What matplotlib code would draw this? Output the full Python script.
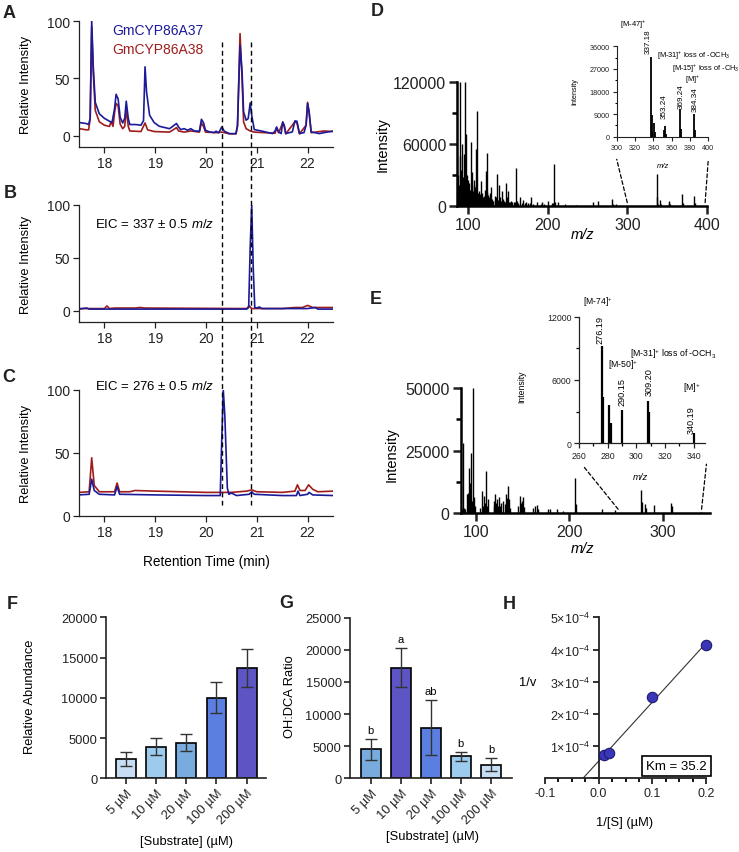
import numpy as np
import matplotlib
matplotlib.use("Agg")
import matplotlib.pyplot as plt
from matplotlib.lines import Line2D
from matplotlib.patches import ConnectionPatch
import matplotlib.transforms as mtransforms
from matplotlib.ticker import MultipleLocator, FixedLocator, FixedFormatter

plt.rcParams['font.family'] = ['Liberation Sans', 'DejaVu Sans']
plt.rcParams['mathtext.fontset'] = 'custom'
plt.rcParams['mathtext.rm'] = 'Liberation Sans'
plt.rcParams['mathtext.it'] = 'Liberation Sans:italic'
plt.rcParams['mathtext.bf'] = 'Liberation Sans:bold'

# ---------------- data ----------------
# A: total ion chromatogram
a37_t = [17.51, 17.64, 17.69, 17.72, 17.75, 17.78, 17.82, 17.9, 18.0, 18.1, 18.15, 18.2, 18.23, 18.27, 18.31,
         18.36, 18.4, 18.43, 18.47, 18.5, 18.62, 18.72, 18.77, 18.8, 18.83, 18.89, 18.98, 19.08, 19.28, 19.33,
         19.39, 19.42, 19.46, 19.5, 19.57, 19.64, 19.7, 19.77, 19.87, 19.91, 19.95, 19.99, 20.07, 20.16, 20.2,
         20.25, 20.31, 20.36, 20.46, 20.59, 20.62, 20.67, 20.71, 20.74, 20.79, 20.83, 20.87, 20.9, 20.95, 21.11,
         21.31, 21.36, 21.39, 21.43, 21.48, 21.51, 21.54, 21.57, 21.7, 21.75, 21.79, 21.84, 21.93, 21.97, 22.0,
         22.03, 22.07, 22.23, 22.33, 22.49]
a37_i = [11.3, 10.5, 9.6, 15, 100, 61, 29, 19, 15, 12.5, 11.3, 23.5, 36, 32, 16,
         11, 15, 30, 15, 9.6, 9.6, 9, 13, 60, 38, 17.7, 11.3, 8.1, 6, 7.5,
         9.6, 10.5, 7.5, 5.2, 6, 4.6, 6, 4, 3.8, 14.2, 11.3, 4.6, 3.2, 2.6, 3.8,
         2.3, 7.5, 3.8, 1.7, 1.7, 9, 78.8, 55.5, 20.6, 13.4, 14.8, 28.5, 17.7, 5.2, 3.8,
         1.7, 4, 7.5, 3.2, 1.7, 12, 9, 1.7, 3.2, 12.8, 12.5, 1.7, 2.6, 9, 28,
         20.6, 3.2, 1.7, 2.6, 3.8]
a38_t = [17.51, 17.64, 17.69, 17.72, 17.75, 17.78, 17.82, 17.9, 18.0, 18.1, 18.13, 18.17, 18.2, 18.23, 18.27,
         18.31, 18.36, 18.4, 18.43, 18.47, 18.5, 18.72, 18.8, 18.85, 18.98, 19.28, 19.39, 19.42, 19.46, 19.57,
         19.7, 19.87, 19.91, 19.95, 19.99, 20.2, 20.31, 20.46, 20.59, 20.62, 20.67, 20.71, 20.74, 20.79, 20.87,
         20.95, 21.36, 21.39, 21.43, 21.51, 21.54, 21.57, 21.75, 21.79, 21.84, 21.97, 22.0, 22.03, 22.07, 22.33,
         22.49]
a38_i = [6, 5, 5, 15, 95, 55, 22, 12, 9, 8, 12, 8, 20, 28, 26,
         10, 6, 8, 23, 8, 4, 3.5, 11, 5, 3.5, 3, 6, 7, 4, 3,
         4, 3, 11, 8, 3, 2.5, 3, 1.5, 1.5, 8, 89, 50, 12, 6, 4,
         3, 2, 6.5, 2.5, 11, 8, 1.5, 12, 11, 1.5, 9, 29, 20, 2.5, 4,
         3.5]
# B: EIC 337
b37_t = [17.5, 17.65, 17.7, 18.5, 20.8, 20.84, 20.87, 20.9, 20.93, 20.96, 21.0, 21.05, 21.1, 22.0, 22.15, 22.2, 22.5]
b37_i = [1.5, 2.5, 1.5, 1.5, 1.5, 3, 60, 100, 40, 3, 2.5, 3.5, 2, 2, 3, 1.5, 1.5]
b38_t = [17.5, 18.0, 18.05, 18.1, 18.2, 18.3, 18.6, 18.7, 18.8, 20.8, 20.85, 20.9, 21.5, 21.75, 21.9, 22.0, 22.1, 22.5]
b38_i = [2, 2, 4.5, 2, 2.5, 2.5, 2.5, 3, 2.5, 2, 4.5, 2, 2, 3, 3, 5, 3, 3]
# C: EIC 276
c37_t = [17.5, 17.7, 17.75, 17.8, 17.9, 18.2, 18.25, 18.3, 19.0, 20.0, 20.28, 20.31, 20.34, 20.37, 20.42, 20.45,
         20.5, 20.6, 20.85, 20.9, 20.95, 21.5, 21.78, 21.81, 21.85, 22.0, 22.03, 22.1, 22.5]
c37_i = [16.5, 17, 29, 20, 17, 16.5, 23, 17, 16.5, 16, 16, 60, 100, 80, 22, 17,
         18, 16, 17, 19, 17, 16, 16, 19.5, 16, 17, 18.5, 16.5, 16]
c38_t = [17.5, 17.7, 17.75, 17.8, 17.9, 18.2, 18.25, 18.3, 18.5, 18.6, 19.0, 19.5, 20.0, 20.3, 20.5, 20.8, 20.9,
         21.0, 21.5, 21.75, 21.8, 21.85, 21.95, 22.02, 22.1, 22.2, 22.5]
c38_i = [18.5, 19, 46, 24, 19, 19, 26, 19, 19, 20, 19.5, 19, 18.5, 18.5, 18.5, 19.5, 20.5,
         19, 18.5, 19.5, 24.5, 20, 20, 24.5, 21, 19, 19.5]
rt_marks = [20.32, 20.89]

# D: mass spectrum of product
d_mz = [86, 87, 88, 89, 90, 91, 92, 93, 94, 95, 96, 97, 98, 99, 100, 101, 102, 103, 104, 105, 106, 107, 108, 109,
        110, 111, 112, 113, 114, 115, 116, 117, 118, 119, 120, 121, 122, 123, 124, 125, 126, 127, 128, 129, 130,
        131, 133, 134, 135, 136, 137, 138, 139, 140, 141, 142, 143, 145, 146, 147, 148, 149, 150, 151, 152, 153,
        155, 157, 159, 160, 161, 163, 165, 167, 169, 171, 173, 175, 177, 179, 181, 186, 191, 193, 195, 200, 205,
        207, 208, 209, 213, 221, 235, 257, 263, 281, 282, 286, 337, 338, 339, 341, 342, 352, 353, 354, 369, 370,
        384, 385]
d_int = [45000, 30000, 20000, 120000, 48000, 35000, 60000, 28000, 22000, 50000, 120000, 70000, 30000, 25000,
         18000, 22000, 15000, 62000, 20000, 33000, 14000, 25000, 18000, 55000, 20000, 92000, 12000, 14000, 9000,
         11000, 24000, 12000, 8000, 9000, 7000, 15000, 34000, 13000, 51000, 10000, 8000, 12000, 6000, 18000, 7000,
         5000, 9000, 6000, 8000, 31000, 6000, 20000, 6000, 8000, 5000, 14000, 7000, 5000, 4000, 22000, 6000, 8000,
         14000, 4000, 4000, 5000, 3500, 4000, 4000, 37000, 5000, 3000, 8000, 3000, 6000, 2500, 4000, 2500, 2500,
         8000, 2000, 4000, 2000, 4000, 2000, 5000, 3000, 3000, 41000, 4000, 4000, 2000, 1000, 3500, 5000, 7000,
         2000, 1500, 31000, 8500, 2000, 5500, 1800, 2500, 4200, 1200, 11000, 3000, 9000, 2500]
di_mz = [337.18, 338, 339, 341, 342, 352, 353.24, 354, 369.24, 370, 384.34, 385]
di_int = [31600, 8500, 2000, 5500, 1800, 2500, 4200, 1200, 11000, 3000, 9000, 2500]

# E: mass spectrum of second product
e_mz = [85, 86, 87, 89, 91, 92, 93, 94, 95, 96, 97, 98, 99, 105, 107, 108, 109, 110, 111, 112, 113, 119, 120,
        121, 122, 123, 124, 125, 126, 127, 129, 131, 132, 133, 134, 135, 136, 137, 145, 147, 148, 149, 151, 152,
        161, 163, 165, 166, 177, 179, 187, 193, 206, 207, 235, 249, 276, 277, 281, 282, 290, 308, 309, 340]
e_int = [1500, 28000, 2000, 1500, 7600, 8000, 18000, 12000, 24000, 5000, 50000, 6300, 3000, 2000, 9000, 3000,
         7000, 4000, 17000, 3000, 5600, 3000, 5000, 7600, 4000, 5600, 3000, 6300, 3000, 4000, 5000, 3500, 7600,
         6000, 10700, 4000, 5600, 2000, 3000, 6700, 4000, 5000, 6300, 2500, 2000, 2700, 3200, 1500, 1600, 1500,
         1600, 800, 13900, 3600, 1600, 1300, 9200, 4300, 3600, 1900, 3200, 3900, 3000, 500]
ei_mz = [276.19, 277, 281, 282, 290.15, 308, 309.2, 340.19]
ei_int = [9200, 4400, 3600, 1900, 3200, 4000, 3000, 1000]

# F, G: bar charts
conc = ['5 µM', '10 µM', '20 µM', '100 µM', '200 µM']
f_mean = [2400, 3930, 4430, 9980, 13700]
f_err = [830, 1020, 1100, 1930, 2400]
f_colors = ['#c6ddf4', '#9dcbee', '#79acde', '#5a7fe0', '#5d55c4']
g_mean = [4510, 17220, 7880, 3420, 2120]
g_err = [1610, 3020, 4280, 700, 1050]
g_letters = ['b', 'a', 'ab', 'b', 'b']
g_colors = ['#79acde', '#5d55c4', '#5a7fe0', '#9dcbee', '#c6ddf4']

# H: Lineweaver-Burk
inv_s = [0.01, 0.02, 0.1, 0.2]
inv_v = [7.35e-5, 7.97e-5, 2.52e-4, 4.13e-4]
km_label = 'Km = 35.2'

# ---------------- layout helpers ----------------
W, H = 739, 853
fig = plt.figure(figsize=(W / 100, H / 100), dpi=100)


def box(l, t, r, b):
    return [l / W, 1 - b / H, (r - l) / W, (b - t) / H]


def ftext(x, y, s, **kw):
    kw.setdefault('ha', 'center')
    kw.setdefault('va', 'center')
    return fig.text(x / W, 1 - y / H, s, **kw)


blue = '#1b1b9a'
red = '#a01c1c'


def style_axes(ax, lw=0.9, tl=4, fs=9):
    ax.spines['top'].set_visible(False)
    ax.spines['right'].set_visible(False)
    for s in ('left', 'bottom'):
        ax.spines[s].set_linewidth(lw)
        ax.spines[s].set_color('#222222')
    ax.tick_params(axis='both', which='major', direction='out', length=tl, width=lw,
                   labelsize=fs, colors='#222222', pad=2)
    ax.tick_params(axis='both', which='minor', direction='out', length=tl * 0.6, width=lw)


# ---------------- A, B, C chromatograms ----------------
chrom = [
    (box(79, 22, 333, 148), (-10, 100), a37_t, a37_i, a38_t, a38_i),
    (box(79, 206, 333, 323.3), (-11, 100), b37_t, b37_i, b38_t, b38_i),
    (box(79, 390.7, 333, 516.7), (0, 100), c37_t, c37_i, c38_t, c38_i),
]
chrom_axes = []
for rect, ylim, t1, i1, t2, i2 in chrom:
    ax = fig.add_axes(rect)
    ax.plot(t2, i2, color=red, lw=1.2)
    ax.plot(t1, i1, color=blue, lw=1.2)
    ax.set_xlim(17.5, 22.5)
    ax.set_ylim(*ylim)
    ax.set_xticks([18, 19, 20, 21, 22])
    ax.set_yticks([0, 50, 100])
    style_axes(ax, lw=0.9, tl=4.5, fs=10)
    chrom_axes.append(ax)

axA, axB, axC = chrom_axes
ftext(112, 31, 'GmCYP86A37', color=blue, fontsize=10, ha='left')
ftext(112, 50, 'GmCYP86A38', color=red, fontsize=10, ha='left')
ftext(95, 224, r'EIC = 337 ± 0.5 $\mathit{m/z}$', fontsize=9.5, ha='left')
ftext(95, 387, r'EIC = 276 ± 0.5 $\mathit{m/z}$', fontsize=9.5, ha='left')
for y in (85, 265, 453.7):
    ftext(26, y, 'Relative Intensity', fontsize=9.3, rotation=90)
ftext(206, 562, 'Retention Time (min)', fontsize=9.8)

# dashed retention-time marks spanning A-C
blend = mtransforms.blended_transform_factory(axA.transData, fig.transFigure)
for rt in rt_marks:
    fig.add_artist(Line2D([rt, rt], [1 - 43 / H, 1 - 506 / H], transform=blend,
                          color='black', lw=1.0, ls=(0, (3.5, 2.5))))

# ---------------- D mass spectrum ----------------
axD = fig.add_axes(box(457.3, 83.3, 706.7, 206.7))
axD.vlines(d_mz, 0, d_int, color='black', lw=1.0)
axD.set_xlim(86, 400)
axD.set_ylim(0, 120000)
axD.set_xticks([100, 200, 300, 400])
axD.set_yticks([0, 60000, 120000])
axD.yaxis.set_minor_locator(MultipleLocator(30000))
style_axes(axD, lw=1.8, tl=6, fs=11.5)
for s in ('left', 'bottom'):
    axD.spines[s].set_color('black')
ftext(383, 145, 'Intensity', fontsize=10.5, rotation=90)
ftext(583, 235, 'm/z', fontsize=10.5, style='italic')

axDi = fig.add_axes(box(616.7, 47.3, 708.3, 137.7))
axDi.vlines(di_mz, 0, di_int, color='black', lw=1.3)
axDi.set_xlim(300, 400)
axDi.set_ylim(0, 36000)
axDi.set_xticks(range(300, 401, 20))
axDi.set_yticks(range(0, 36001, 9000))
axDi.yaxis.set_minor_locator(MultipleLocator(4500))
style_axes(axDi, lw=0.8, tl=3, fs=5.2)
ftext(575, 92, 'Intensity', fontsize=5.2, rotation=90)
ftext(663, 166, 'm/z', fontsize=5.5, style='italic')
ftext(633, 25, r'[M-47]$^{+}$', fontsize=5.5)
ftext(648, 42, '337.18', fontsize=5.8, rotation=90)
ftext(657, 56, r'[M-31]$^{+}$ loss of -OCH$_3$', fontsize=5.3, ha='left')
ftext(672, 69, r'[M-15]$^{+}$ loss of -CH$_3$', fontsize=5.3, ha='left')
ftext(685, 80, r'[M]$^{+}$', fontsize=5.3, ha='left')
ftext(664, 107, '353.24', fontsize=5.8, rotation=90)
ftext(680.7, 97, '369.24', fontsize=5.8, rotation=90)
ftext(695, 100, '384.34', fontsize=5.8, rotation=90)

for xa, xb, yb in ((300, 300, -0.25), (398, 400, -0.25)):
    cp = ConnectionPatch(xyA=(xa, 3000), coordsA=axD.transData,
                         xyB=(xb, yb), coordsB=axDi.get_xaxis_transform(),
                         color='black', lw=0.9, ls=(0, (3, 2)))
    fig.add_artist(cp)

# ---------------- E mass spectrum ----------------
axE = fig.add_axes(box(460.7, 389.3, 710, 514))
axE.vlines(e_mz, 0, e_int, color='black', lw=1.0)
axE.set_xlim(84, 350)
axE.set_ylim(0, 50000)
axE.set_xticks([100, 200, 300])
axE.set_yticks([0, 25000, 50000])
axE.yaxis.set_minor_locator(MultipleLocator(12500))
style_axes(axE, lw=1.8, tl=6, fs=11.5)
for s in ('left', 'bottom'):
    axE.spines[s].set_color('black')
ftext(391.7, 455, 'Intensity', fontsize=10.5, rotation=90)
ftext(583, 549, 'm/z', fontsize=10.5, style='italic')

axEi = fig.add_axes(box(579, 317.7, 705, 444.3))
axEi.vlines(ei_mz, 0, ei_int, color='black', lw=1.6)
axEi.set_xlim(260, 348)
axEi.set_ylim(0, 12000)
axEi.set_xticks([260, 280, 300, 320, 340])
axEi.xaxis.set_minor_locator(MultipleLocator(10))
axEi.set_yticks([0, 6000, 12000])
axEi.yaxis.set_minor_locator(MultipleLocator(3000))
style_axes(axEi, lw=0.9, tl=3.5, fs=6.3)
ftext(521.7, 386.7, 'Intensity', fontsize=6.2, rotation=90)
ftext(640, 478, 'm/z', fontsize=6.8, style='italic')
ftext(598, 302, r'[M-74]$^{+}$', fontsize=6.2)
ftext(600, 330, '276.19', fontsize=6.6, rotation=90)
ftext(630, 354, r'[M-31]$^{+}$ loss of -OCH$_3$', fontsize=6.3, ha='left')
ftext(608, 365, r'[M-50]$^{+}$', fontsize=6.3, ha='left')
ftext(621.7, 391.7, '290.15', fontsize=6.6, rotation=90)
ftext(649.3, 381.7, '309.20', fontsize=6.6, rotation=90)
ftext(683, 388, r'[M]$^{+}$', fontsize=6.3, ha='left')
ftext(691.7, 420, '340.19', fontsize=6.6, rotation=90)

for xa, xb, yb in ((252, 263, -0.18), (341, 349, -0.165)):
    cp = ConnectionPatch(xyA=(xa, 1500), coordsA=axE.transData,
                         xyB=(xb, yb), coordsB=axEi.get_xaxis_transform(),
                         color='black', lw=0.9, ls=(0, (3, 2)))
    fig.add_artist(cp)

# ---------------- F, G bar charts ----------------
x = np.arange(len(conc))
axF = fig.add_axes(box(106, 618.3, 266, 779.3))
axF.bar(x, f_mean, width=0.66, color=f_colors, edgecolor='black', lw=1.2)
axF.errorbar(x, f_mean, yerr=f_err, fmt='none', ecolor='#333333', elinewidth=1.0, capsize=4.5, capthick=1.0)
axF.set_xlim(-0.66, 4.64)
axF.set_ylim(0, 20000)
axF.set_yticks(range(0, 20001, 5000))
axF.set_xticks(x)
axF.set_xticklabels(conc, rotation=45, ha='right', rotation_mode='anchor')
style_axes(axF, lw=1.2, tl=4, fs=9.3)
ftext(30, 697, 'Relative Abundance', fontsize=9.3, rotation=90)
ftext(187, 842, '[Substrate] (µM)', fontsize=9.3)

axG = fig.add_axes(box(350, 618.7, 511.7, 779.3))
axG.bar(x, g_mean, width=0.66, color=g_colors, edgecolor='black', lw=1.2)
axG.errorbar(x, g_mean, yerr=g_err, fmt='none', ecolor='#333333', elinewidth=1.0, capsize=4.5, capthick=1.0)
for xi, mv, e, lab in zip(x, g_mean, g_err, g_letters):
    axG.annotate(lab, (xi, mv + e), xytext=(0, 3), textcoords='offset points',
                 ha='center', va='bottom', fontsize=8)
axG.set_xlim(-0.69, 4.69)
axG.set_ylim(0, 25000)
axG.set_yticks(range(0, 25001, 5000))
axG.set_xticks(x)
axG.set_xticklabels(conc, rotation=45, ha='right', rotation_mode='anchor')
style_axes(axG, lw=1.2, tl=4, fs=9.3)
ftext(290, 697, 'OH:DCA Ratio', fontsize=9.3, rotation=90)
ftext(432, 837, '[Substrate] (µM)', fontsize=9.3)

# ---------------- H Lineweaver-Burk ----------------
axH = fig.add_axes(box(545, 618.3, 706, 779.3))
m, b = np.polyfit(inv_s, inv_v, 1)
xs = np.array([-b / m, max(inv_s)])
axH.plot(xs, m * xs + b, color='#333333', lw=0.8)
axH.plot(inv_s, inv_v, 'o', ms=7.5, mfc='#3a36b8', mec='#1c1a70', mew=0.8, clip_on=False, zorder=5)
axH.set_xlim(-0.1, 0.2)
axH.set_ylim(0, 5e-4)
axH.spines['left'].set_position(('data', 0))
axH.set_xticks([-0.1, 0.0, 0.1, 0.2])
axH.set_xticklabels(['-0.1', '0.0', '0.1', '0.2'])
axH.xaxis.set_minor_locator(MultipleLocator(0.025))
yt = [0, 1e-4, 2e-4, 3e-4, 4e-4, 5e-4]
axH.yaxis.set_major_locator(FixedLocator(yt))
axH.yaxis.set_major_formatter(FixedFormatter([''] + [r'$%d{\times}10^{-4}$' % k for k in range(1, 6)]))
style_axes(axH, lw=1.3, tl=4.5, fs=9)
axH.tick_params(axis='x', which='minor', length=3)
axH.text(0.145, 0.37e-4, km_label, fontsize=9.5, ha='center', va='center',
         bbox=dict(boxstyle='square,pad=0.3', fc='white', ec='black', lw=1.2))
ftext(528, 683, '1/v', fontsize=9.3)
ftext(625, 823, '1/[S] (µM)', fontsize=9.3)

# ---------------- panel letters ----------------
for lab, px, py in (('A', 9, 14), ('B', 10, 194), ('C', 9, 378), ('D', 377, 11), ('E', 376, 300),
                    ('F', 12, 605), ('G', 286, 604), ('H', 509, 605)):
    ftext(px, py, lab, fontsize=13, fontweight='bold', color='#222222')

fig.savefig('out.png', dpi=100)
